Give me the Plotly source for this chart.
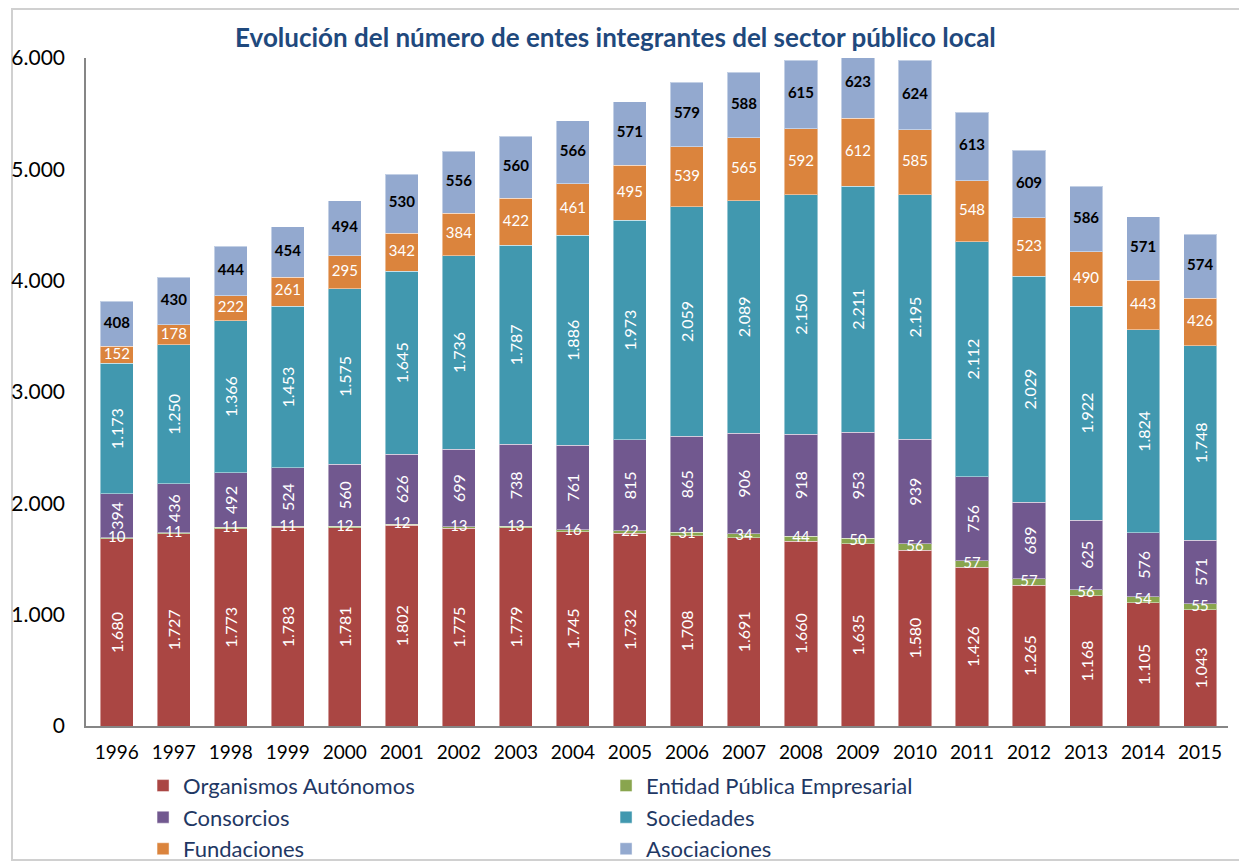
import plotly.graph_objects as go

years = [str(y) for y in range(1996, 2016)]
organismos = [1680, 1727, 1773, 1783, 1781, 1802, 1775, 1779, 1745, 1732, 1708, 1691, 1660, 1635, 1580, 1426, 1265, 1168, 1105, 1043]
entidad = [10, 11, 11, 11, 12, 12, 13, 13, 16, 22, 31, 34, 44, 50, 56, 57, 57, 56, 54, 55]
consorcios = [394, 436, 492, 524, 560, 626, 699, 738, 761, 815, 865, 906, 918, 953, 939, 756, 689, 625, 576, 571]
sociedades = [1173, 1250, 1366, 1453, 1575, 1645, 1736, 1787, 1886, 1973, 2059, 2089, 2150, 2211, 2195, 2112, 2029, 1922, 1824, 1748]
fundaciones = [152, 178, 222, 261, 295, 342, 384, 422, 461, 495, 539, 565, 592, 612, 585, 548, 523, 490, 443, 426]
asociaciones = [408, 430, 444, 454, 494, 530, 556, 560, 566, 571, 579, 588, 615, 623, 624, 613, 609, 586, 571, 574]

series = [
    ("Organismos Autónomos", organismos, "#AA4643"),
    ("Entidad Pública Empresarial", entidad, "#89A54E"),
    ("Consorcios", consorcios, "#71588F"),
    ("Sociedades", sociedades, "#4198AF"),
    ("Fundaciones", fundaciones, "#DB843D"),
    ("Asociaciones", asociaciones, "#93A9CF"),
]
vertical_labels = {"Organismos Autónomos", "Consorcios", "Sociedades"}

FONT = "Lato"
LABEL_SIZE = 15
VLABEL_SIZE = 16
fig = go.Figure()

base = [0] * len(years)
mids = {}
for name, vals, color in series:
    mids[name] = [b + v / 2 for b, v in zip(base, vals)]
    base = [b + v for b, v in zip(base, vals)]
    vert = name in vertical_labels
    fig.add_trace(go.Bar(
        x=years, y=vals, name=name,
        marker=dict(color=color, line=dict(color="rgba(255,255,255,0.45)", width=1)),
        text=vals if vert else None,
        texttemplate="%{y:,.0f}" if vert else None,
        textposition="inside" if vert else "none",
        insidetextanchor="middle",
        textangle=-90,
        constraintext="none",
        textfont=dict(color="white", size=VLABEL_SIZE, family=FONT),
    ))

# horizontal labels: Entidad, Fundaciones (white) and Asociaciones (black bold)
fig.add_trace(go.Scatter(
    x=years, y=mids["Entidad Pública Empresarial"], mode="text",
    text=[str(v) for v in entidad],
    textfont=dict(color="white", size=LABEL_SIZE, family=FONT),
    showlegend=False, hoverinfo="skip", cliponaxis=False))
fig.add_trace(go.Scatter(
    x=years, y=mids["Fundaciones"], mode="text",
    text=[str(v) for v in fundaciones],
    textfont=dict(color="white", size=LABEL_SIZE, family=FONT),
    showlegend=False, hoverinfo="skip", cliponaxis=False))
fig.add_trace(go.Scatter(
    x=years, y=mids["Asociaciones"], mode="text",
    text=["<b>%d</b>" % v for v in asociaciones],
    textfont=dict(color="black", size=LABEL_SIZE, family=FONT),
    showlegend=False, hoverinfo="skip", cliponaxis=False))

fig.update_layout(
    barmode="stack",
    bargap=0.42,
    width=1239, height=859,
    separators=",.",
    paper_bgcolor="white", plot_bgcolor="white",
    margin=dict(l=78, r=19, t=50, b=141, autoexpand=False),
    font=dict(family=FONT, color="black"),
    title=dict(text="<b>Evolución del número de entes integrantes del sector público local</b>",
               x=0.4903, xanchor="center", y=0.965, yanchor="middle",
               font=dict(size=26, color="#1F497D", family=FONT)),
    legend=dict(orientation="h", xref="container", yref="container",
                x=0.109, xanchor="left", y=0.119, yanchor="top",
                entrywidth=418, entrywidthmode="pixels",
                font=dict(size=22, color="#1F3864", family=FONT),
                traceorder="normal", bgcolor="rgba(0,0,0,0)"),
    showlegend=True,
)
fig.update_xaxes(type="category", range=[-0.54, 19.49], showline=True, linecolor="#868686",
                 linewidth=1.5, ticks="", showgrid=False, automargin=False,
                 tickfont=dict(size=19, color="black", family=FONT), ticklabelstandoff=8)
fig.update_yaxes(range=[0, 6000], dtick=1000, tickformat=",.0f", showline=True,
                 linecolor="#868686", linewidth=1.5, ticks="", showgrid=False, zeroline=False,
                 automargin=False,
                 tickfont=dict(size=21, color="black", family=FONT), ticklabelstandoff=15)

fig.add_shape(type="rect", xref="paper", yref="paper",
              x0=-0.0648, x1=1.0105, y0=-0.2006, y1=1.0734,
              line=dict(color="#D0D0D0", width=2), layer="below")

fig.write_html("out.html")
